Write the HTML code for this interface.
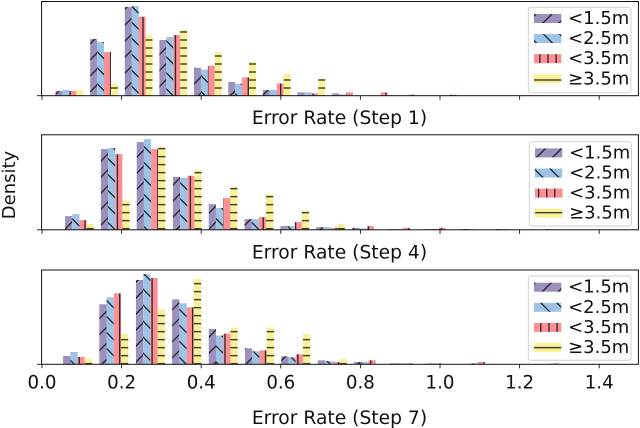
<!DOCTYPE html>
<html>
<head>
<meta charset="utf-8">
<title>Error Rate Density</title>
<style>
html,body{margin:0;padding:0;background:#fff;width:640px;height:428px;overflow:hidden}
svg{display:block}
text{font-family:"DejaVu Sans","Liberation Sans",sans-serif;fill:#111}
</style>
</head>
<body>
<svg id="chart" width="640" height="428" viewBox="0 0 640 428" xmlns="http://www.w3.org/2000/svg">
<defs id="defs"></defs>
<rect width="640" height="428" fill="#fff"/>
<text transform="translate(15,185) rotate(-90)" text-anchor="middle" font-size="18">Density</text>
</svg>
<script>
// Data: bin left edges (error rate) and bar densities (relative units).
const seriesLabels = ['<1.5m', '<2.5m', '<3.5m', '≥3.5m'];
const tickLabels = ['0.0', '0.2', '0.4', '0.6', '0.8', '1.0', '1.2', '1.4'];
const tickValues = [0, 0.2, 0.4, 0.6, 0.8, 1.0, 1.2, 1.4];
const panelTitles = ['Error Rate (Step 1)', 'Error Rate (Step 4)', 'Error Rate (Step 7)'];

const step1Bins = [0.034, 0.121, 0.208, 0.295, 0.382, 0.468, 0.555, 0.642, 0.729, 0.816, 0.903, 0.990];
const step1Lt15 = [4.7, 56.7, 88.7, 55.7, 28, 13.7, 5.7, 3.3, 2.3, 0.3, 0, 0];
const step1Lt25 = [5.7, 53.7, 89.7, 58.7, 26, 12, 5.7, 3.3, 1.3, 0.3, 1, 0];
const step1Lt35 = [4.7, 43.7, 79, 60.7, 30, 18.3, 12.3, 2.3, 3.3, 3.3, 0, 1];
const step1Ge35 = [5.7, 11.7, 60.3, 65.7, 43.7, 33.7, 22, 17, 0, 0, 0, 0];

const step4Bins = [0.058, 0.148, 0.238, 0.329, 0.419, 0.509, 0.599, 0.689, 0.780, 0.870, 0.960, 1.050, 1.140, 1.230];
const step4Lt15 = [13.7, 80.7, 87.7, 53, 25.7, 10.7, 3.7, 2.7, 2, 0.7, 0.7, 0.7, 0.7, 0];
const step4Lt25 = [15.7, 81.7, 90.7, 52, 21.7, 10.7, 3.7, 2.7, 1.3, 0.7, 0.7, 0.7, 0.7, 0];
const step4Lt35 = [9.7, 75.7, 80.7, 54, 31.7, 12.7, 7.7, 2, 3.7, 2, 2, 0.3, 0, 0.7];
const step4Ge35 = [5.7, 29.3, 83.3, 59.7, 42.7, 35.3, 18.7, 5.7, 0, 0, 0, 0, 0, 0];

const step7Bins = [0.053, 0.144, 0.236, 0.327, 0.419, 0.510, 0.601, 0.693, 0.784, 0.876, 0.967, 1.058, 1.150, 1.241];
const step7Lt15 = [8.3, 60, 84.3, 65, 35.3, 16, 8, 4, 2.3, 1, 1, 0, 0, 0];
const step7Lt25 = [12.3, 67, 90.3, 61, 28.7, 13, 7, 3.3, 2.3, 1, 1, 1, 0, 0];
const step7Lt35 = [7.3, 71, 86.3, 57, 30.7, 14, 10, 2.3, 4, 1, 0, 2.3, 0, 1];
const step7Ge35 = [5.7, 30.3, 55, 85.3, 36.7, 36.7, 30.3, 5.3, 0, 0, 0, 0, 0, 0];

const NS = 'http://www.w3.org/2000/svg';
const svg = document.getElementById('chart');
const defs = document.getElementById('defs');

function make(tag, attrs, parent) {
  const el = document.createElementNS(NS, tag);
  for (const k in attrs) el.setAttribute(k, attrs[k]);
  parent.appendChild(el);
  return el;
}

const seriesKeys = ['lt-1-5m', 'lt-2-5m', 'lt-3-5m', 'ge-3-5m'];
const colors = ['#9c90bc', '#9dc3e7', '#fb8f94', '#f8f196'];
const panels = [
  { key: 'step-1', bins: step1Bins, series: [step1Lt15, step1Lt25, step1Lt35, step1Ge35], top: 1.5, bottom: 95.7, labelY: 124,
    legend: { x: 528.3, y: 7.3, w: 102.7, h: 85.4 }, phase: { d1: 6, d2: 2.6, v: 5.3, h: 0 } },
  { key: 'step-4', bins: step4Bins, series: [step4Lt15, step4Lt25, step4Lt35, step4Ge35], top: 134.8, bottom: 229.8, labelY: 258.3,
    legend: { x: 529.3, y: 141.7, w: 102.2, h: 84.3 }, phase: { d1: 6, d2: 2.6, v: 4, h: 4.7 } },
  { key: 'step-7', bins: step7Bins, series: [step7Lt15, step7Lt25, step7Lt35, step7Ge35], top: 270, bottom: 364.3, labelY: 424,
    legend: { x: 528.3, y: 276, w: 102.7, h: 84.3 }, phase: { d1: 2, d2: 2, v: 6.3, h: 3.7 } }
];

const plotLeft = 41.6, plotRight = 638.4;
function xScale(v) { return 42 + v * 398; }
function yScale(panel, v) { return panel.bottom - v; }

function makePatterns(panel, idx) {
  const ph = panel.phase;
  const specs = [
    { size: 16, line: [0, 16, 16, 0], extra: [[-4, 4, 4, -4], [12, 20, 20, 12]], tx: ph.d1, ty: 0 },
    { size: 16, line: [0, 0, 16, 16], extra: [[-4, 12, 4, 20], [12, -4, 20, 4]], tx: 0, ty: ph.d2 },
    { size: 8.1, line: [4, 0, 4, 8.1], extra: [], tx: ph.v - 4, ty: 0, h: 16 },
    { size: 8, line: [0, 4, 8, 4], extra: [], tx: 0, ty: ph.h - 4 }
  ];
  specs.forEach(function (s, i) {
    const p = make('pattern', {
      id: 'hatch-' + idx + '-' + i, patternUnits: 'userSpaceOnUse',
      width: s.size, height: s.h || s.size,
      patternTransform: 'translate(' + s.tx + ',' + s.ty + ')'
    }, defs);
    make('rect', { x: 0, y: 0, width: s.size, height: s.h || s.size, fill: colors[i] }, p);
    const lines = [s.line].concat(s.extra);
    lines.forEach(function (l) {
      const y2 = (i === 2) ? (s.h || s.size) : l[3];
      make('line', { x1: l[0], y1: l[1], x2: l[2], y2: y2, stroke: '#1a1a1a', 'stroke-width': 1.2 }, p);
    });
  });
}

panels.forEach(function (panel, pi) {
  makePatterns(panel, pi);
  const g = make('g', {}, svg);
  
  

  const binWidth = panel.bins[1] - panel.bins[0];
  const barWidth = binWidth * 0.2;

  panel.series.forEach(function (values, si) {
    const sg = make('g', {}, g);
    
    
    values.forEach(function (v, bi) {
      const x0 = xScale(panel.bins[bi] + si * barWidth);
      const x1 = xScale(panel.bins[bi] + (si + 1) * barWidth);
      const y = yScale(panel, v);
      const bar = make('rect', {
        x: x0, y: y, width: x1 - x0, height: panel.bottom - y,
        fill: 'url(#hatch-' + pi + '-' + si + ')'
      }, sg);
      
      
    });
  });

  // spines
  const frame = make('rect', {
    x: plotLeft, y: panel.top, width: plotRight - plotLeft, height: panel.bottom - panel.top,
    fill: 'none', stroke: '#111', 'stroke-width': 1
  }, g);
  
  

  // y tick at zero
  const yTick = make('line', { x1: 37, x2: plotLeft, y1: panel.bottom, y2: panel.bottom, stroke: '#111', 'stroke-width': 0.9 }, g);
  
  

  // x ticks
  tickValues.forEach(function (tv, ti) {
    const tx = xScale(tv);
    const tick = make('line', { x1: tx, x2: tx, y1: panel.bottom, y2: panel.bottom + 4, stroke: '#111', 'stroke-width': 0.9 }, g);
    
    
    if (pi === 2) {
      const lab = make('text', { x: tx, y: 388.5, 'text-anchor': 'middle', 'font-size': 18.2 }, g);
      lab.textContent = tickLabels[ti];
      
      
    }
  });

  // x label
  const xl = make('text', { x: 339.5, y: panel.labelY, 'text-anchor': 'middle', 'font-size': 18.7 }, g);
  xl.textContent = panelTitles[pi];
  
  

  // legend
  const L = panel.legend;
  const lg = make('g', {}, g);
  
  
  const box = make('rect', { x: L.x, y: L.y, width: L.w, height: L.h, rx: 2.5, ry: 2.5, fill: '#fff', 'fill-opacity': 0.85, stroke: '#cfcfcf', 'stroke-width': 1 }, lg);
  
  
  seriesLabels.forEach(function (label, si) {
    const rowY = L.y + 6.7 + si * 20.1;
    const entry = make('g', {}, lg);
    
    
    const sw = make('rect', { x: L.x + 5.7, y: rowY, width: 27.3, height: 9, fill: 'url(#hatch-' + pi + '-' + si + ')' }, entry);
    
    
    const t = make('text', { x: L.x + 39.8, y: rowY + 10, 'font-size': 18 }, entry);
    t.textContent = label;
    
    
  });
});
</script>
</body>
</html>
